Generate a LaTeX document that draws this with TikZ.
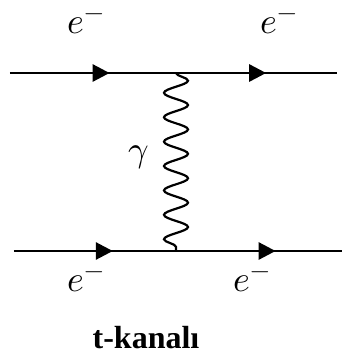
\documentclass[tikz,border=0pt]{standalone}
\usepackage{fontspec}
\usepackage{unicode-math}
\setmainfont{Liberation Serif}
\setmathfont{Latin Modern Math}
\usepackage{tikz}
\usetikzlibrary{arrows.meta,positioning,decorations.pathmorphing,decorations.markings}
\tikzset{
  fermion/.style={line width=2.8pt,draw=black,postaction={decorate},
    decoration={markings,mark=at position #1 with {\arrow{Triangle[length=17pt,width=17pt]}}}},
  photon/.style={line width=2.2pt,draw=black,decorate,
    decoration={snake,segment length=24.4pt,amplitude=12pt}},
  partlabel/.style={font=\fontsize{36}{40}\selectfont,inner sep=0pt},
  caption/.style={font=\fontsize{32}{36}\selectfont\bfseries,inner sep=0pt}
}
\begin{document}
\begin{tikzpicture}[x=1pt,y=-1pt]
  \useasboundingbox (0,0) rectangle (342,360);
  % vertices and external legs
  \coordinate (inA) at (10,73);
  \coordinate (vtop) at (176,73);
  \coordinate (outA) at (337,73);
  \coordinate (inB) at (14,251);
  \coordinate (vbot) at (176,251);
  \coordinate (outB) at (342,251);
  \draw[fermion=0.6] (inA) -- (vtop);
  \draw[fermion=0.56] (vtop) -- (outA);
  \draw[fermion=0.61] (inB) -- (vbot);
  \draw[fermion=0.6] (vbot) -- (outB);
  \draw[photon] (vtop) -- (vbot);
  % labels
  \node[partlabel] (eA) at (86,24) {$e^-$};
  \node[partlabel] (eC) at (279,24) {$e^-$};
  \node[partlabel] (eB) at (86,282) {$e^-$};
  \node[partlabel] (eD) at (252,282) {$e^-$};
  \node[partlabel] (gam) at (139,157) {$\gamma$};
  \node[caption] (chan) at (146,338) {t-kanalı};
\end{tikzpicture}
\end{document}
